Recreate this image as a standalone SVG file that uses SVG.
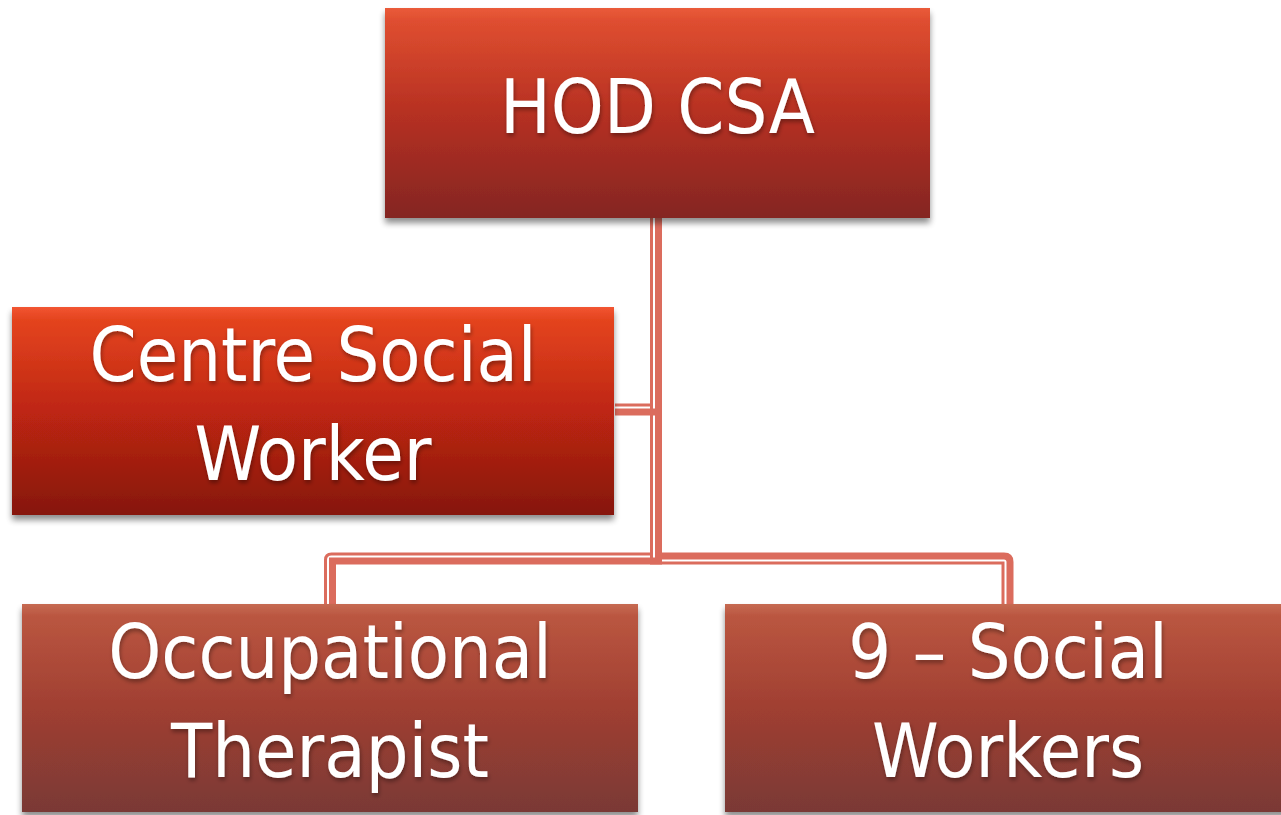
<svg xmlns="http://www.w3.org/2000/svg" width="1281" height="815" viewBox="0 0 1281 815">
<defs>
<linearGradient id="gTop" x1="0" y1="0" x2="0" y2="1">
<stop offset="0" stop-color="#EA5B3A"/>
<stop offset="0.06" stop-color="#DF4E30"/>
<stop offset="0.5" stop-color="#B63022"/>
<stop offset="1" stop-color="#842620"/>
</linearGradient>
<linearGradient id="gMid" x1="0" y1="0" x2="0" y2="1">
<stop offset="0" stop-color="#F25532"/>
<stop offset="0.06" stop-color="#E4441F"/>
<stop offset="0.5" stop-color="#BE2612"/>
<stop offset="1" stop-color="#86170F"/>
</linearGradient>
<linearGradient id="gLow" x1="0" y1="0" x2="0" y2="1">
<stop offset="0" stop-color="#C66A52"/>
<stop offset="0.06" stop-color="#BA5640"/>
<stop offset="0.5" stop-color="#A03F32"/>
<stop offset="1" stop-color="#7A3935"/>
</linearGradient>
<filter id="shadow" x="-5%" y="-5%" width="110%" height="120%">
<feGaussianBlur in="SourceAlpha" stdDeviation="3"/>
<feOffset dx="0" dy="5" result="b"/>
<feComponentTransfer><feFuncA type="linear" slope="0.45"/></feComponentTransfer>
<feMerge><feMergeNode/><feMergeNode in="SourceGraphic"/></feMerge>
</filter>
<filter id="tshadow" x="-5%" y="-20%" width="110%" height="140%">
<feGaussianBlur in="SourceAlpha" stdDeviation="2"/>
<feOffset dx="1" dy="3"/>
<feComponentTransfer><feFuncA type="linear" slope="0.35"/></feComponentTransfer>
<feMerge><feMergeNode/><feMergeNode in="SourceGraphic"/></feMerge>
</filter>
</defs>
<style>
.lbl{font-family:"DejaVu Sans Condensed","DejaVu Sans",sans-serif;font-size:75px;fill:#FFFFFF;text-anchor:middle}
.thin{fill:none;stroke:#DB6C5D;stroke-width:3}
.thick{fill:none;stroke:#DB6C5D;stroke-width:7}
</style>
<rect width="1281" height="815" fill="#FFFFFF"/>
<g id="connectors">
<path class="thin" d="M651.5 218 V405 H615"/>
<path class="thick" d="M658.5 218 V412 H615"/>
<path class="thin" d="M651.5 218 V554 H331.5 Q325.5 554 325.5 560 V604"/>
<path class="thick" d="M658.5 218 V561 H332.5 V604"/>
<path class="thin" d="M651.5 400 V563 H1003 V604"/>
<path class="thick" d="M658.5 400 V556 H1004 Q1010 556 1010 562 V604"/>
</g>
<g id="hod">
<rect x="385" y="8" width="545" height="210" fill="url(#gTop)" filter="url(#shadow)"/>
<text class="lbl" x="657.5" y="133" filter="url(#tshadow)">HOD CSA</text>
</g>
<g id="csw">
<rect x="12" y="307" width="602" height="208" fill="url(#gMid)" filter="url(#shadow)"/>
<text class="lbl" x="313" y="381" filter="url(#tshadow)">Centre Social</text>
<text class="lbl" x="313" y="480" filter="url(#tshadow)">Worker</text>
</g>
<g id="ot">
<rect x="22" y="604" width="616" height="208" fill="url(#gLow)" filter="url(#shadow)"/>
<text class="lbl" x="330" y="678" filter="url(#tshadow)">Occupational</text>
<text class="lbl" x="330" y="777" filter="url(#tshadow)">Therapist</text>
</g>
<g id="sw">
<rect x="725" y="604" width="570" height="208" fill="url(#gLow)" filter="url(#shadow)"/>
<text class="lbl" x="1008" y="678" filter="url(#tshadow)">9 – Social</text>
<text class="lbl" x="1008" y="777" filter="url(#tshadow)">Workers</text>
</g>
</svg>
